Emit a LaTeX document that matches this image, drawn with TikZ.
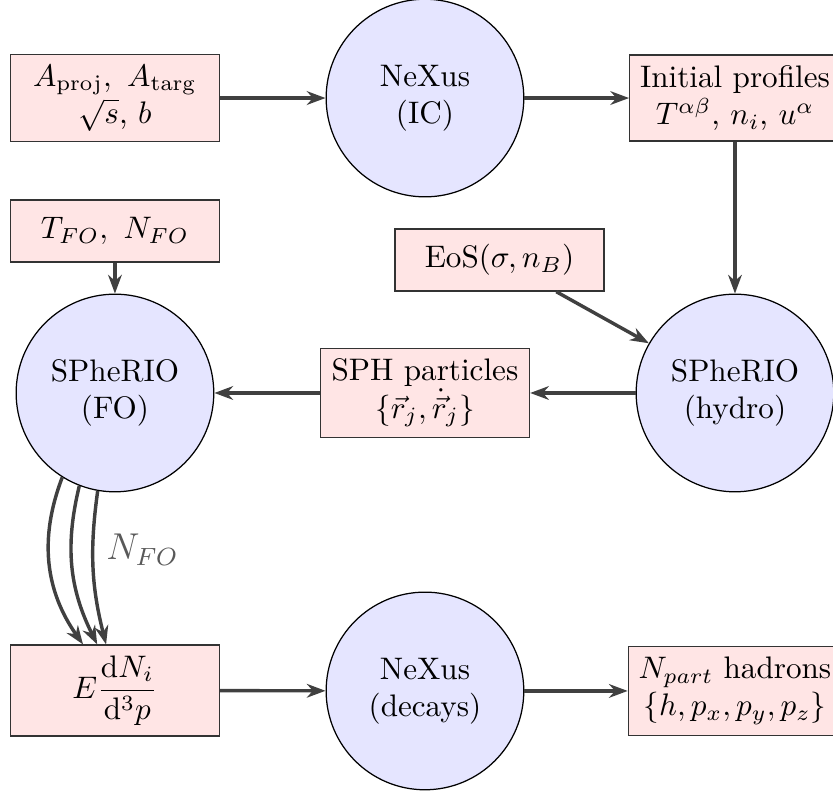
\documentclass[tikz,border=0pt]{standalone}
\usepackage{amsmath,amssymb}
\usepackage{tikz}
\usetikzlibrary{arrows.meta,calc}

\begin{document}
\begin{tikzpicture}[>={Stealth[length=6pt,width=4.4pt]},x=1cm,y=1cm,
  databox/.style={draw=black!80,fill=red!10,align=center,minimum width=2.36cm,minimum height=0.7cm},
  codeball/.style={circle,draw=black,fill=blue!10,align=center,minimum size=2.23cm},
  flow/.style={->,line width=1.1pt,black!75}]
\useasboundingbox (0,0) rectangle (9.399,-8.959);
% first row
\node[databox] (inp) at (1.297,-1.106) {$A_{\mathrm{proj}},\ A_{\mathrm{targ}}$\\$\sqrt{s}$, $b$};
\node[codeball] (ic) at (4.795,-1.106) {NeXus\\(IC)};
\node[databox] (prof) at (8.293,-1.106) {Initial profiles\\$T^{\alpha\beta}$, $n_i$, $u^\alpha$};
% parameters
\node[databox] (tfo) at (1.297,-2.606) {$T_{FO},\ N_{FO}$};
\node[databox] (eos) at (5.636,-2.934) {EoS$(\sigma,n_B)$};
% second row
\node[codeball] (fo) at (1.297,-4.434) {SPheRIO\\(FO)};
\node[databox] (sph) at (4.795,-4.434) {SPH particles\\$\{\vec{r}_j,\dot{\vec{r}}_j\}$};
\node[codeball] (hydro) at (8.293,-4.434) {SPheRIO\\(hydro)};
% third row
\node[databox] (spec) at (1.297,-7.791) {$E\dfrac{\mathrm{d}N_i}{\mathrm{d}^3p}$};
\node[codeball] (dec) at (4.795,-7.796) {NeXus\\(decays)};
\node[databox] (hadr) at (8.293,-7.796) {$N_{part}$ hadrons\\$\{h,p_x,p_y,p_z\}$};
\node[black!65,font=\large] (nfo) at (1.608,-6.206) {$N_{FO}$};
\draw[flow] (inp) -- (ic);
\draw[flow] (ic) -- (prof);
\draw[flow] (prof) -- (hydro);
\draw[flow] (eos) -- (hydro.150);
\draw[flow] (hydro) -- (sph);
\draw[flow] (sph) -- (fo);
\draw[flow] (tfo) -- (fo);
\draw[flow] (fo.238) to[bend right=28] ($(spec.north)+(-0.36,0)$);
\draw[flow] (fo.249) to[bend right=20] ($(spec.north)+(-0.20,0)$);
\draw[flow] (fo.260) to[bend right=11] ($(spec.north)+(-0.10,0)$);
\draw[flow] (spec) -- (dec);
\draw[flow] (dec) -- (hadr);
\end{tikzpicture}
\end{document}
